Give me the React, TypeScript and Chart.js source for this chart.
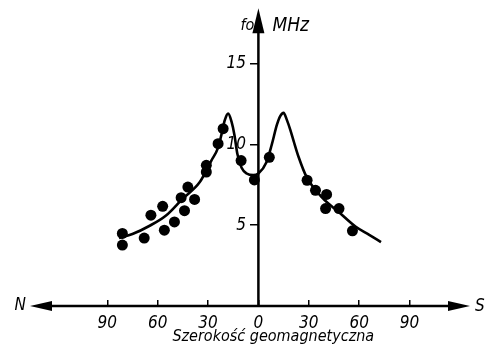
import React, { useEffect, useRef } from "react";
import { Chart, registerables } from "chart.js";

Chart.register(...registerables);

// Geomagnetic latitude (negative = North, positive = South), degrees
const xTickValues = [-90, -60, -30, 0, 30, 60, 90];
const yTickValues = [5, 10, 15];

// Smooth curve through the measurements (f0, MHz)
const curveLat = [-83, -75, -65, -55, -45, -35, -28, -24, -22, -20, -18, -16, -14.3, -12.5, -10, -7, -3, 0, 4.8, 8, 11, 13, 15, 17, 19, 21, 24, 28.6, 38, 48, 58, 66, 73];
const curveFo = [4.2, 4.45, 4.95, 5.6, 6.65, 7.65, 9.0, 9.8, 10.6, 11.5, 11.9, 11.4, 10.6, 9.4, 8.55, 8.2, 8.1, 8.2, 8.9, 10.0, 11.2, 11.75, 11.95, 11.5, 10.9, 10.2, 9.2, 8.0, 6.7, 5.8, 4.9, 4.4, 3.95];

// Measured points
const pointLat = [-81, -81, -68, -64, -56, -57, -50, -44, -46, -42, -38, -31, -31, -24, -21, -10.3, -2.4, 6.5, 29, 34, 40.6, 40, 48, 56];
const pointFo = [4.49, 3.77, 4.2, 5.62, 4.69, 6.17, 5.2, 5.9, 6.7, 7.36, 6.59, 8.29, 8.7, 10.04, 10.97, 9.0, 7.8, 9.2, 7.78, 7.16, 6.9, 6.03, 6.03, 4.65];

const xMin = -136;
const xMax = 126;
const yMin = 0;
const yMax = 18.3;

const FONT = '"Liberation Sans Narrow", "DejaVu Sans Condensed", "DejaVu Sans", sans-serif';

const arrowAxes = {
  id: "arrowAxes",
  afterDraw(chart: any) {
    const { ctx, chartArea, scales } = chart;
    const xs = scales.x;
    const ys = scales.y;
    const x0 = xs.getPixelForValue(0);
    const y0 = ys.getPixelForValue(0);
    const L = chartArea.left;
    const R = chartArea.right;
    const T = chartArea.top;
    ctx.save();
    ctx.strokeStyle = "#000";
    ctx.fillStyle = "#000";
    ctx.lineWidth = 2.5;
    // horizontal axis
    ctx.beginPath();
    ctx.moveTo(L + 12, y0);
    ctx.lineTo(R - 12, y0);
    ctx.stroke();
    ctx.beginPath();
    ctx.moveTo(L, y0);
    ctx.lineTo(L + 22, y0 - 5);
    ctx.lineTo(L + 22, y0 + 5);
    ctx.closePath();
    ctx.fill();
    ctx.beginPath();
    ctx.moveTo(R, y0);
    ctx.lineTo(R - 22, y0 - 5);
    ctx.lineTo(R - 22, y0 + 5);
    ctx.closePath();
    ctx.fill();
    // vertical axis
    ctx.beginPath();
    ctx.moveTo(x0, y0);
    ctx.lineTo(x0, T + 12);
    ctx.stroke();
    ctx.beginPath();
    ctx.moveTo(x0, T - 2);
    ctx.lineTo(x0 - 6, T + 23);
    ctx.lineTo(x0 + 6, T + 23);
    ctx.closePath();
    ctx.fill();

    // texts
    ctx.textBaseline = "middle";
    ctx.font = `italic 17px ${FONT}`;
    ctx.textAlign = "right";
    ctx.fillText("N", L - 4, y0);
    ctx.textAlign = "left";
    ctx.fillText("S", R + 5, y0 + 1);
    ctx.font = `italic 16px ${FONT}`;
    ctx.textAlign = "right";
    ctx.fillText("fo", x0 - 4, T + 16);
    ctx.font = `italic 19px ${FONT}`;
    ctx.textAlign = "left";
    ctx.fillText("MHz", x0 + 14, T + 16);

    // axis title
    const title = "Szerokość geomagnetyczna";
    ctx.font = `italic 16px ${FONT}`;
    const w = ctx.measureText(title).width;
    const target = 200;
    const ls = Math.max(0, (target - w) / (title.length - 1));
    (ctx as any).letterSpacing = `${ls.toFixed(2)}px`;
    ctx.textAlign = "left";
    ctx.fillText(title, x0 + 14 - target / 2, y0 + 31);
    ctx.restore();
  },
};

export default function App() {
  const ref = useRef<HTMLCanvasElement | null>(null);

  useEffect(() => {
    if (!ref.current) return;
    const curve = curveLat.map((v, i) => ({ x: v, y: curveFo[i] }));
    const pts = pointLat.map((v, i) => ({ x: v, y: pointFo[i] }));
    const chart = new Chart(ref.current, {
      type: "scatter",
      data: {
        datasets: [
          {
            label: "krzywa",
            data: curve,
            showLine: true,
            borderColor: "#000",
            borderWidth: 2.6,
            pointRadius: 0,
            cubicInterpolationMode: "monotone",
            fill: false,
          } as any,
          {
            label: "pomiary",
            data: pts,
            showLine: false,
            pointRadius: 5.5,
            pointBackgroundColor: "#000",
            pointBorderWidth: 0,
            pointBorderColor: "#000",
          },
        ],
      },
      options: {
        responsive: false,
        animation: false,
        layout: { padding: { left: 30, right: 27, top: 10, bottom: 52 } },
        plugins: {
          legend: { display: false },
          tooltip: { enabled: false },
        },
        scales: {
          x: {
            type: "linear",
            position: { y: 0 } as any,
            min: xMin,
            max: xMax,
            afterBuildTicks: (s: any) => {
              s.ticks = xTickValues.map((v) => ({ value: v }));
            },
            border: { display: false },
            grid: {
              drawOnChartArea: false,
              drawTicks: true,
              tickLength: -6,
              color: "#000",
              lineWidth: 1.5,
            },
            ticks: {
              padding: 13,
              color: "#000",
              font: { family: FONT, size: 17, style: "italic" },
              callback: (v: any) => String(Math.abs(Number(v))),
              maxRotation: 0,
            },
          },
          y: {
            type: "linear",
            position: { x: 0 } as any,
            min: yMin,
            max: yMax,
            afterBuildTicks: (s: any) => {
              s.ticks = yTickValues.map((v) => ({ value: v }));
            },
            border: { display: false },
            grid: {
              drawOnChartArea: false,
              drawTicks: true,
              tickLength: 8,
              color: "#000",
              lineWidth: 1.5,
            },
            ticks: {
              padding: 0,
              color: "#000",
              font: { family: FONT, size: 17, style: "italic" },
              callback: (v: any) => String(v) + "\u2002 ",
            },
          },
        },
      },
      plugins: [arrowAxes],
    });
    return () => chart.destroy();
  }, []);

  return (
    <div style={{ position: "fixed", left: 0, top: 0, width: 497, height: 358, background: "#fff" }}>
      <canvas ref={ref} width={497} height={358} />
    </div>
  );
}
